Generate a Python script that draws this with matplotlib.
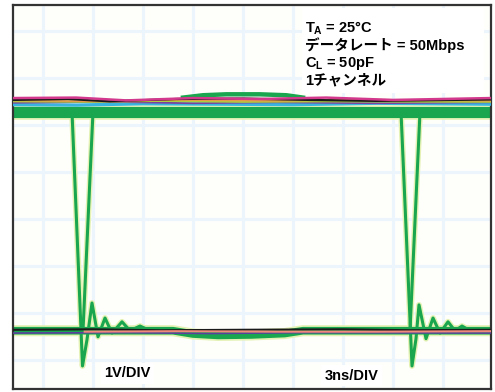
import matplotlib
matplotlib.use("Agg")
import matplotlib.pyplot as plt
from matplotlib.patches import Rectangle

plt.rcParams['mathtext.fontset'] = 'custom'
plt.rcParams['mathtext.rm'] = 'Liberation Sans:bold'
plt.rcParams['mathtext.it'] = 'Liberation Sans:bold'
plt.rcParams['mathtext.bf'] = 'Liberation Sans:bold'

# 時間 (ns) と電圧 (V, 1V/DIV のスクリーン目盛)
T_MIN, T_MAX = -1.8, 26.88
V_MIN, V_MAX = -0.62, 7.55
grid_t = [0, 3, 6, 9, 12, 15, 18, 21, 24]
grid_v = [0, 1, 2, 3, 4, 5, 6, 7]

v_high = 5.28
v_low = 0.62

# 立ち下がりエッジとリンギング
fall1_t = [1.74, 2.37, 2.64, 2.94, 3.30, 3.72, 4.14, 4.74, 5.22, 5.82, 6.42]
fall1_v = [5.28, -0.13, 0.43, 1.21, 0.49, 0.89, 0.57, 0.81, 0.62, 0.72, 0.62]
fall2_t = [21.48, 22.14, 22.38, 22.56, 22.98, 23.40, 23.82, 24.30, 24.72, 25.14, 25.62]
fall2_v = [5.28, -0.13, 0.45, 1.17, 0.45, 0.89, 0.57, 0.81, 0.62, 0.72, 0.62]
# 立ち上がりエッジ
rise1_t = [2.40, 3.00]
rise1_v = [0.62, 5.28]
rise2_t = [22.02, 22.62]
rise2_v = [0.62, 5.28]

# ローレベルのたるみ
sag_t = [T_MIN, 7.8, 9.0, 10.5, 12.5, 14.5, 15.6, T_MAX]
sag_v = [0.62, 0.62, 0.55, 0.52, 0.53, 0.56, 0.62, 0.62]

# ハイレベル付近の他チャンネル
hi_black_t = [T_MIN, 1.5, 4.0, 8.0, 12.0, 16.0, 20.0, T_MAX]
hi_black_v = [5.53, 5.55, 5.50, 5.55, 5.56, 5.53, 5.51, 5.54]
hi_magenta_t = [T_MIN, 2.0, 5.0, 9.0, 13.0, 17.0, 21.0, T_MAX]
hi_magenta_v = [5.57, 5.58, 5.52, 5.57, 5.55, 5.58, 5.53, 5.57]
hi_lime_t = [T_MIN, 3.0, 7.0, 12.0, 17.0, T_MAX]
hi_lime_v = [5.50, 5.49, 5.51, 5.49, 5.50, 5.49]
hi_cyan_t = [T_MIN, 2.0, 6.0, 11.0, 15.0, 20.0, T_MAX]
hi_cyan_v = [5.43, 5.42, 5.45, 5.44, 5.43, 5.46, 5.44]
hi_orange_t = [T_MIN, 3.0, 8.0, 14.0, 19.0, T_MAX]
hi_orange_v = [5.52, 5.50, 5.53, 5.51, 5.54, 5.51]
hi_purple_t = [T_MIN, 4.0, 9.0, 14.0, 20.0, T_MAX]
hi_purple_v = [5.47, 5.49, 5.46, 5.48, 5.46, 5.48]
hi_top_t = [8.4, 9.6, 11.0, 13.0, 14.6, 15.6]
hi_top_v = [5.58, 5.63, 5.65, 5.65, 5.63, 5.58]

# ローレベル付近の他チャンネル
lo_black_t = [T_MIN, 3.0, 7.0, 12.0, 18.0, 22.0, T_MAX]
lo_black_v = [0.64, 0.65, 0.63, 0.64, 0.65, 0.63, 0.64]
lo_pink_t = [2.5, 8.0, 14.0, 20.0, T_MAX]
lo_pink_v = [0.60, 0.61, 0.60, 0.60, 0.61]
lo_purple_t = [T_MIN, 5.0, 10.0, 16.0, T_MAX]
lo_purple_v = [0.57, 0.58, 0.56, 0.58, 0.57]

green = '#1aa64e'
halo = '#e4f2b4'

fig = plt.figure(figsize=(4.95, 3.92), dpi=100)
ax = fig.add_axes([13 / 495, 3 / 392, 478 / 495, 384 / 392])
ax.set_facecolor('#fefefb')
ax.set_xlim(T_MIN, T_MAX)
ax.set_ylim(V_MIN, V_MAX)

for t in grid_t:
    ax.axvline(t, color='#edf5fc', lw=2.2, zorder=0)
for v in grid_v:
    ax.axhline(v, color='#edf5fc', lw=2.2, zorder=0)

# エッジ (帯の下に描く)
for tt, vv in [(fall1_t, fall1_v), (fall2_t, fall2_v), (rise1_t, rise1_v), (rise2_t, rise2_v)]:
    ax.plot(tt, vv, color=halo, lw=4.2, zorder=1)
    ax.plot(tt, vv, color=green, lw=2.2, zorder=1.5)

# 太いトレース帯
ax.plot([T_MIN, T_MAX], [v_high, v_high], color=halo, lw=10.5, solid_capstyle='butt', zorder=1.2)
ax.plot([T_MIN, T_MAX], [v_high, v_high], color=green, lw=8, solid_capstyle='butt', zorder=2)
ax.plot(sag_t, sag_v, color=halo, lw=8, solid_capstyle='butt', zorder=1.2)
ax.plot(sag_t, sag_v, color=green, lw=5.5, solid_capstyle='butt', zorder=2)
ax.plot(hi_top_t, hi_top_v, color=green, lw=3.2, zorder=2)

# 他チャンネル
ax.plot(hi_cyan_t, hi_cyan_v, color='#38b6e0', lw=2.4, zorder=3)
ax.plot(hi_purple_t, hi_purple_v, color='#7b3f9e', lw=1.3, zorder=3)
ax.plot(hi_lime_t, hi_lime_v, color='#a8d040', lw=1.5, zorder=3)
ax.plot(hi_orange_t, hi_orange_v, color='#e89a48', lw=1.2, zorder=3)
ax.plot(hi_black_t, hi_black_v, color='#1a1a1a', lw=1.6, zorder=3)
ax.plot(hi_magenta_t, hi_magenta_v, color='#d2388c', lw=1.8, zorder=3)
ax.plot(lo_purple_t, lo_purple_v, color='#5a3f9e', lw=1.2, zorder=3)
ax.plot(lo_black_t, lo_black_v, color='#1a1a1a', lw=1.5, zorder=3)
ax.plot(lo_pink_t, lo_pink_v, color='#f08a7a', lw=1.5, zorder=4)

ax.set_xticks([])
ax.set_yticks([])
for s in ax.spines.values():
    s.set_color('#333333')
    s.set_linewidth(1.6)

# 条件表示
ax.add_patch(Rectangle((0.605, 0.771), 0.38, 0.221, transform=ax.transAxes,
                       facecolor='white', edgecolor='none', zorder=5))
fam = ['Liberation Sans', 'Noto Sans CJK JP']
lines = [r'$T_A$ = 25°C', 'データレート = 50Mbps', r'$C_L$ = 50pF', '1チャンネル']
line_y = [0.940, 0.896, 0.848, 0.804]
for s, y in zip(lines, line_y):
    ax.text(0.611, y, s, transform=ax.transAxes, family=fam,
            weight='bold', fontsize=10.5, va='center', ha='left', zorder=6)

box = dict(facecolor='white', edgecolor='none', pad=2.5)
ax.text(0.239, 0.041, '1V/DIV', transform=ax.transAxes, family=fam, weight='bold',
        fontsize=10.5, ha='center', va='center', bbox=box, zorder=6)
ax.text(0.709, 0.034, '3ns/DIV', transform=ax.transAxes, family=fam, weight='bold',
        fontsize=10.5, ha='center', va='center', bbox=box, zorder=6)

fig.savefig('out.png', dpi=100, facecolor='white')
